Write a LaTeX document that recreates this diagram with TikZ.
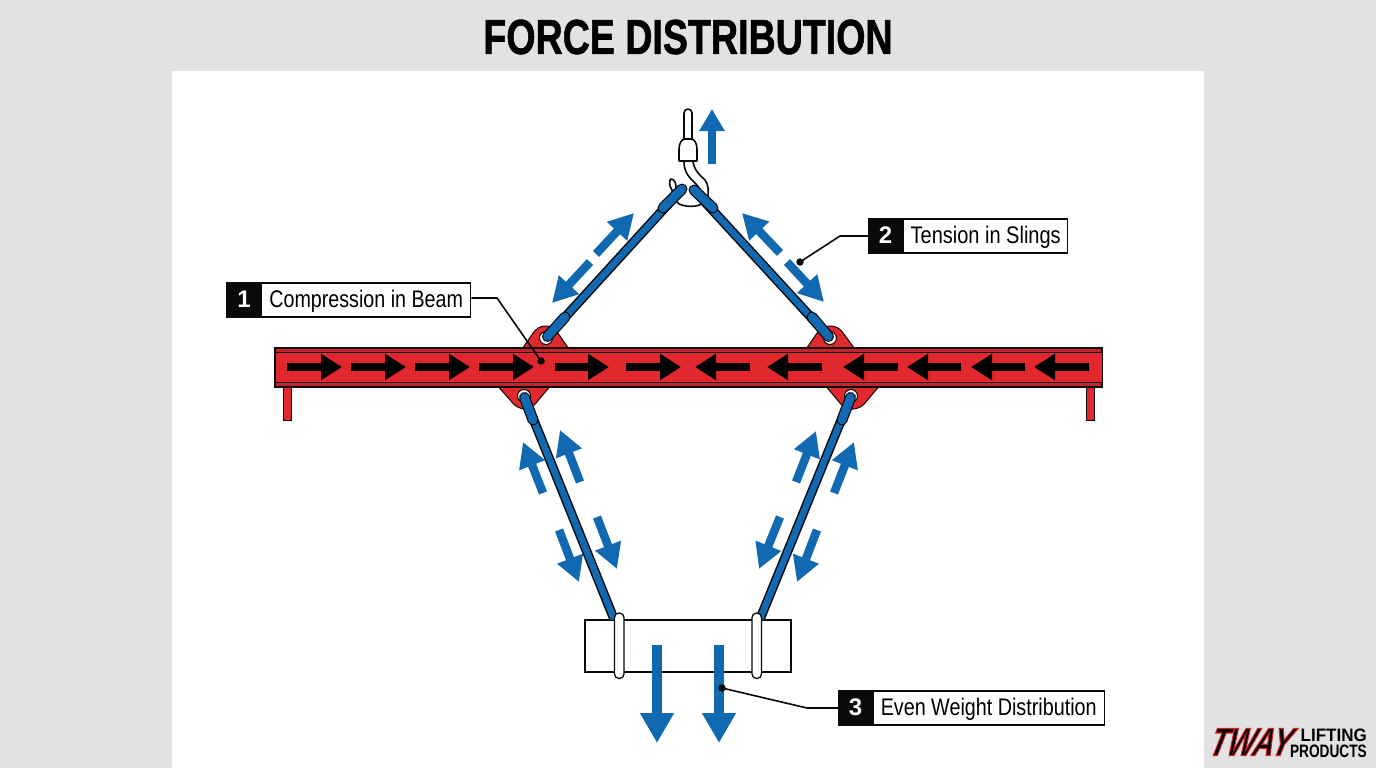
\documentclass[tikz,border=0pt]{standalone}
\usepackage{graphicx}
\usepackage{fontspec}
\setmainfont{Liberation Sans}
\usetikzlibrary{arrows.meta,calc}
\definecolor{pagegray}{HTML}{E2E2E2}
\definecolor{flowblue}{HTML}{1169B2}
\definecolor{beamred}{HTML}{E0282E}
\definecolor{flangered}{HTML}{C4232B}
\definecolor{ink}{HTML}{0A0A0A}
\newcommand{\squeezed}[2]{\scalebox{#1}[1]{#2}}
\newcommand{\labelsize}{\fontsize{24}{28}\selectfont}
% places a line of text with its baseline a fixed distance below the node centre
\newcommand{\seated}[1]{\raisebox{-7.8pt}[0pt][0pt]{#1}}
\tikzset{
  flow/.style={draw=flowblue,line width=8.5pt,-{Triangle[length=25pt,width=26pt]}},
  beamflow/.style={draw=black,line width=7.5pt,-{Triangle[length=21pt,width=25pt]}},
  loadflow/.style={draw=flowblue,line width=10pt,-{Triangle[length=30pt,width=32pt]}},
  badge/.style={fill=ink,draw=ink,line width=1.2pt,text=white,minimum height=34pt,minimum width=34pt,inner sep=0pt,font=\labelsize\bfseries},
  caption/.style={fill=white,draw=ink,line width=1.4pt,text=black,minimum height=34pt,inner sep=0pt,font=\labelsize},
  leader/.style={draw=ink,line width=1.6pt,line join=round},
  dot/.style={circle,fill=ink,inner sep=0pt,minimum size=7.5pt},
  plate/.style={fill=beamred,draw=ink,line width=1pt,rounded corners=7pt},
  hookline/.style={draw=ink,line width=1.6pt,fill=white,line join=round},
}
% one sling: outlined blue strap with a wider sleeve at each end
\newcommand{\slingbody}[2]{%
  \draw[ink,line width=9.5pt] (#1) -- (#2);
  \draw[flowblue,line width=6.5pt] (#1) -- (#2);
}
\newcommand{\slingsleeve}[2]{%
  \draw[ink,line width=11pt,line cap=round] (#1) -- (#2);
  \draw[flowblue,line width=8.6pt,line cap=round] (#1) -- (#2);
}
\begin{document}
\begin{tikzpicture}[x=1pt,y=-1pt]
\useasboundingbox (0,0) rectangle (1376,768);
\fill[pagegray] (0,0) rectangle (1376,768);
\fill[white] (172,71) rectangle (1204,768);

% heading
\node (heading) at (688,37) {\fontsize{49}{54}\selectfont\bfseries\special{pdf:code 2 Tr 0.7 w 0 0 0 RG}\squeezed{0.767}{FORCE DISTRIBUTION}\special{pdf:code 0 Tr 0 w}};

% gusset plates behind the beam
\draw[plate] (520,352) -- (538,326) -- (553,326) -- (571,352);
\draw[plate] (804,352) -- (822,326) -- (838,326) -- (857,352);
\draw[plate] (496,384) -- (518,409) -- (531,409) -- (552,384);
\draw[plate] (824,384) -- (845,409) -- (860,409) -- (881,384);

% end legs
\draw[fill=beamred,draw=ink,line width=1pt] (283,387) rectangle (291,420);
\draw[fill=beamred,draw=ink,line width=1pt] (1086,387) rectangle (1094,420);

% beam with its flanges
\draw[fill=flangered,draw=ink,line width=1.2pt] (275,348) rectangle (1102,387);
\draw[fill=beamred,draw=ink,line width=1pt] (275,352.5) rectangle (1102,382);

% compression arrows along the beam
\foreach \a/\b in {287/342,351/406,415/470,479/534,555/609,626/681}
  \draw[beamflow] (\a,367) -- (\b,367);
\foreach \a/\b in {750/695,822/767,898/843,961/907,1025/971,1089/1034}
  \draw[beamflow] (\a,367) -- (\b,367);

% hook
\draw[hookline] (684,140) -- (684,113) arc[start angle=180,end angle=360,radius=4] -- (692,140);
\draw[hookline] (679,161) -- (679,149) .. controls (679,143) and (682,139) .. (685,139)
  -- (691,139) .. controls (694,139) and (697,143) .. (697,149) -- (697,161) -- cycle;
\draw[ink,line width=1.6pt,line join=round]
  (684,162) .. controls (684,173) and (690,178) .. (696,184) .. controls (700,188) and (703,194) .. (703,199);
\draw[ink,line width=1.6pt,line join=round]
  (693,162) .. controls (695,172) and (701,176) .. (705,180) .. controls (709,185) and (709,193) .. (707,200)
  .. controls (702,207) and (688,208) .. (679,204) .. controls (673,200) and (673,194) .. (672,190)
  .. controls (669,186) and (669,180) .. (671,179) .. controls (675,179) and (676,184) .. (676,188)
  .. controls (677,190) and (679,192) .. (681,195);

% sling attachment points
\coordinate (eyeUL) at (546,338);
\coordinate (eyeUR) at (830,338);
\coordinate (eyeLL) at (524,396);
\coordinate (eyeLR) at (851,396);
\coordinate (hookL) at (682,189);
\coordinate (hookR) at (694,190);
\coordinate (clipL) at (614,619);
\coordinate (clipR) at (760,619);
\foreach \e in {eyeUL,eyeUR,eyeLL,eyeLR}
  \draw[fill=white,draw=ink,line width=1pt] (\e) circle[radius=6.5];

% upper slings
\slingbody{eyeUL}{hookL}
\slingsleeve{$(eyeUL)+(1.5,-1.5)$}{565,317}
\slingsleeve{hookL}{663,208}
\slingbody{eyeUR}{hookR}
\slingsleeve{$(eyeUR)+(-1.5,-1.5)$}{812,317}
\slingsleeve{hookR}{713,208}

% load
\draw[fill=white,draw=ink,line width=1.3pt] (585,620) rectangle (791,672);

% lower slings
\slingbody{eyeLL}{clipL}
\slingsleeve{$(eyeLL)+(0.5,1.5)$}{533,420}
\slingbody{eyeLR}{clipR}
\slingsleeve{$(eyeLR)+(-0.5,1.5)$}{842,420}

% clips around the load
\draw[fill=white,draw=ink,line width=1.3pt,rounded corners=4.5pt] (614.5,613) rectangle (624,678.5);
\draw[fill=white,draw=ink,line width=1.3pt,rounded corners=4.5pt] (752,613) rectangle (761.5,678.5);

% lift and load arrows
\draw[flow,line width=8.5pt,-{Triangle[length=22pt,width=24pt]}] (712,164) -- (712,109);
\draw[loadflow] (657,645) -- (657,743);
\draw[loadflow] (719,645) -- (719,743);

% tension arrows beside the slings
\foreach \ax/\ay/\bx/\by in {
  596/254/634/213, 590/262/552/303,
  780/253/742/213, 787/262/824/302,
  543/493/523/442, 580/482/560/430, 559/530/579/582, 597/517/617/569,
  796/482/816/431, 834/493/854/442, 780/517/759/569, 817/530/797/582}
  \draw[flow] (\ax,\ay) -- (\bx,\by);

% numbered captions
\node[badge] (numA) at (244,300) {\seated{1}};
\node[caption,anchor=west,minimum width=209pt] (capA) at (261,300) {\seated{\squeezed{0.82}{Compression in Beam}}};
\node[badge] (numB) at (885.5,236) {\seated{2}};
\node[caption,anchor=west,minimum width=164pt] (capB) at (903,236) {\seated{\squeezed{0.833}{Tension in Slings}}};
\node[badge] (numC) at (855.5,708) {\seated{3}};
\node[caption,anchor=west,minimum width=231pt] (capC) at (872.5,708) {\seated{\squeezed{0.823}{Even Weight Distribution}}};

% leader lines with their end dots
\node[dot] (dotA) at (541,361) {};
\node[dot] (dotB) at (800,262) {};
\node[dot] (dotC) at (722,688) {};
\coordinate (bendA) at (497,298);
\coordinate (bendB) at (840,236);
\coordinate (bendC) at (807,708);
\draw[leader] (capA.east |- bendA) -- (bendA) -- (dotA.center);
\draw[leader] (numB.west) -- (bendB) -- (dotB.center);
\draw[leader] (numC.west) -- (bendC) -- (dotC.center);

% maker's mark
\node[font=\fontsize{39}{39}\selectfont\bfseries\itshape,inner sep=0pt,xslant=0.25,transform shape] (markT) at (1252,742)
  {\special{pdf:code 2 Tr 1.3 w 0.86 0.13 0.15 RG}\squeezed{0.74}{TWAY}\special{pdf:code 0 Tr 0 w 0 0 0 RG}};
\node[font=\fontsize{18}{18}\selectfont\bfseries,inner sep=0pt,anchor=east] (markL) at (1367,735) {\squeezed{0.945}{LIFTING}};
\node[font=\fontsize{18}{18}\selectfont\bfseries,inner sep=0pt,anchor=east] (markP) at (1367,751) {\squeezed{0.76}{PRODUCTS}};
\end{tikzpicture}
\end{document}
